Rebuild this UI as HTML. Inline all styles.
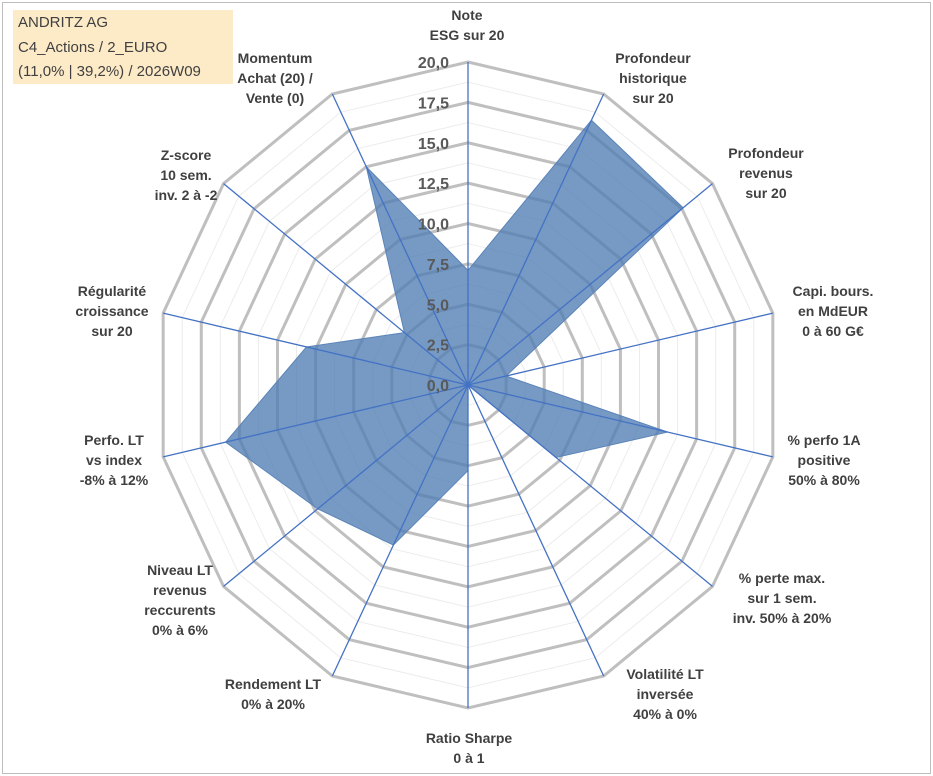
<!DOCTYPE html>
<html><head><meta charset="utf-8"><style>
body{margin:0;background:#fff;}
#wrap{position:relative;width:933px;height:776px;overflow:hidden;font-family:"Liberation Sans",Arial,sans-serif;}
#frame{position:absolute;left:2px;top:2px;width:927px;height:770px;border:1px solid #bdbdbd;}
#title{position:absolute;left:13px;top:10px;width:220px;height:74px;background:#fdebc8;color:#404040;font-size:15px;line-height:24.5px;padding-left:5px;box-sizing:border-box;padding-top:1px;}
.lbl{position:absolute;transform:translateX(-50%);text-align:center;font-weight:bold;font-size:14px;line-height:20px;color:#404040;white-space:nowrap;}
</style></head><body>
<div id="wrap">
<div id="frame"></div>
<div id="title">ANDRITZ AG<br>C4_Actions / 2_EURO<br>(11,0% | 39,2%) / 2026W09</div>
<svg id="svg" width="933" height="776" style="position:absolute;left:0;top:0"></svg>
<div class="lbl" style="left:467px;top:5px">Note<br>ESG sur 20</div>
<div class="lbl" style="left:653px;top:48px">Profondeur<br>historique<br>sur 20</div>
<div class="lbl" style="left:766px;top:143px">Profondeur<br>revenus<br>sur 20</div>
<div class="lbl" style="left:833px;top:281px">Capi. bours.<br>en MdEUR<br>0 à 60 G€</div>
<div class="lbl" style="left:824px;top:430px">% perfo 1A<br>positive<br>50% à 80%</div>
<div class="lbl" style="left:782px;top:568px">% perte max.<br>sur 1 sem.<br>inv. 50% à 20%</div>
<div class="lbl" style="left:665px;top:664px">Volatilité LT<br>inversée<br>40% à 0%</div>
<div class="lbl" style="left:469px;top:728px">Ratio Sharpe<br>0 à 1</div>
<div class="lbl" style="left:273px;top:674px">Rendement LT<br>0% à 20%</div>
<div class="lbl" style="left:180px;top:560px">Niveau LT<br>revenus<br>reccurents<br>0% à 6%</div>
<div class="lbl" style="left:114px;top:430px">Perfo. LT<br>vs index<br>-8% à 12%</div>
<div class="lbl" style="left:112px;top:281px">Régularité<br>croissance<br>sur 20</div>
<div class="lbl" style="left:186px;top:145px">Z-score<br>10 sem.<br>inv. 2 à -2</div>
<div class="lbl" style="left:275px;top:48px">Momentum<br>Achat (20) /<br>Vente (0)</div>
</div>
<script>
const categories=["Note ESG","Profondeur historique","Profondeur revenus","Capi. bours.","% perfo 1A","% perte max.","Volatilité LT","Ratio Sharpe","Rendement LT","Niveau LT","Perfo. LT","Régularité","Z-score","Momentum"];
const values=[7.1,18.2,17.6,2.5,13.1,7.2,0,5.3,11,12.3,15.9,10.6,5.2,15];
const tickValues=[0,2.5,5,7.5,10,12.5,15,17.5,20];
const tickLabels=["0,0","2,5","5,0","7,5","10,0","12,5","15,0","17,5","20,0"];
const maxV=20;
const cx=468,cy=385,R=323,SX=0.968;
const svg=document.getElementById('svg');
const NS="http://www.w3.org/2000/svg";
const n=categories.length;
function pt(i,v){const a=i*2*Math.PI/n;const r=v/maxV*R;return [cx+SX*r*Math.sin(a),cy-r*Math.cos(a)];}
function mk(t,attrs){const e=document.createElementNS(NS,t);for(const k in attrs)e.setAttribute(k,attrs[k]);svg.appendChild(e);return e;}
for(let k=0;k<tickValues.length-1;k++){
  const v=(tickValues[k]+tickValues[k+1])/2;
  const p=[];for(let i=0;i<n;i++)p.push(pt(i,v).join(','));
  const e=mk('polygon',{points:p.join(' '),fill:'none',stroke:'#ececec','stroke-width':1});
  
  
}
for(let k=1;k<tickValues.length;k++){
  const p=[];for(let i=0;i<n;i++)p.push(pt(i,tickValues[k]).join(','));
  const e=mk('polygon',{points:p.join(' '),fill:'none',stroke:'#bfbfbf','stroke-width':3});
  
  
}
const sp=[];for(let i=0;i<n;i++)sp.push(pt(i,values[i]).join(','));
const s=mk('polygon',{points:sp.join(' '),fill:'rgba(80,125,180,0.78)',stroke:'#5b84b8','stroke-width':1});


for(let i=0;i<n;i++){
  const [x,y]=pt(i,maxV);
  const e=mk('line',{x1:cx,y1:cy,x2:x,y2:y,stroke:'#4472c4','stroke-width':1.3});
  
  
}
for(let k=0;k<tickValues.length;k++){
  const [x,y]=pt(0,tickValues[k]);
  const t=mk('text',{x:x-19,y:y+6,'text-anchor':'end','font-family':'"Liberation Sans",Arial,sans-serif','font-size':16,'font-weight':'bold',fill:'#595959'});
  t.textContent=tickLabels[k];
  
  
}
</script>
</body></html>
